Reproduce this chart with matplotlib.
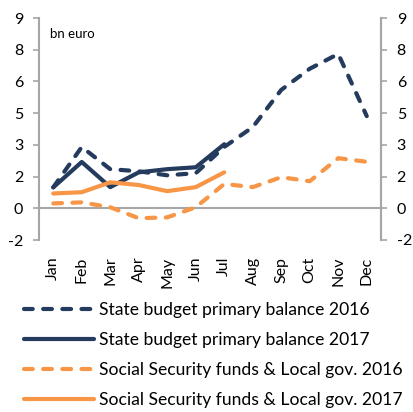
import matplotlib
matplotlib.use("Agg")
import matplotlib.pyplot as plt
import numpy as np

months = ["Jan", "Feb", "Mar", "Apr", "May", "Jun", "Jul", "Aug", "Sep", "Oct", "Nov", "Dec"]
state_2016 = [0.99, 2.9, 1.85, 1.75, 1.56, 1.66, 2.9, 3.84, 5.6, 6.6, 7.3, 4.36]
state_2017 = [0.99, 2.19, 1.0, 1.7, 1.85, 1.94, 3.03]
ss_2016 = [0.23, 0.28, 0.05, -0.47, -0.43, 0.05, 1.15, 1.0, 1.47, 1.28, 2.37, 2.2]
ss_2017 = [0.7, 0.76, 1.23, 1.1, 0.81, 1.0, 1.7]
y_ticks = [-1.5, 0, 1.5, 3, 4.5, 6, 7.5, 9]
y_tick_labels = ["-2", "0", "2", "3", "5", "6", "8", "9"]
series_names = ["State budget primary balance 2016", "State budget primary balance 2017",
                "Social Security funds & Local gov. 2016", "Social Security funds & Local gov. 2017"]

NAVY = "#243B5E"
ORANGE = "#F79646"
GRAY = "#A6A6A6"
plt.rcParams['font.family'] = ['Lato', 'DejaVu Sans']

fig = plt.figure(figsize=(4.14, 4.12), dpi=100)
ax = fig.add_axes([39/414, 1-240/412, 342/414, 222/412])
x = np.arange(len(months))

lw = 3.0
dash = (2.1, 2.5)
l1, = ax.plot(x[:len(state_2016)], state_2016, color=NAVY, lw=lw, ls=(0, dash),
              dash_capstyle='round', solid_capstyle='round', label=series_names[0])
l2, = ax.plot(x[:len(state_2017)], state_2017, color=NAVY, lw=lw,
              solid_capstyle='round', solid_joinstyle='round', label=series_names[1])
l3, = ax.plot(x[:len(ss_2016)], ss_2016, color=ORANGE, lw=lw, ls=(0, dash),
              dash_capstyle='round', label=series_names[2])
l4, = ax.plot(x[:len(ss_2017)], ss_2017, color=ORANGE, lw=lw,
              solid_capstyle='round', solid_joinstyle='round', label=series_names[3])

ax.axhline(0, color=GRAY, lw=1.5, zorder=0)
ax.set_xlim(-0.5, len(months) - 0.5)
ax.set_ylim(-1.5, 9)
ax.set_yticks(y_ticks)
ax.set_yticklabels(y_tick_labels)
ax.set_xticks(x)
ax.set_xticklabels(months, rotation=90)
ax.tick_params(axis='x', length=0, pad=12, labelsize=11.5)
ax.tick_params(axis='y', direction='out', length=4.3, width=1.2, color=GRAY, labelsize=11.5, pad=7)
for s in ['top', 'bottom']:
    ax.spines[s].set_visible(False)
for s in ['left', 'right']:
    ax.spines[s].set_color(GRAY)
    ax.spines[s].set_linewidth(1.5)

ax2 = ax.twinx()
ax2.set_ylim(ax.get_ylim())
ax2.set_yticks(y_ticks)
ax2.set_yticklabels(y_tick_labels)
ax2.tick_params(axis='y', direction='out', length=4.3, width=1.2, color=GRAY, labelsize=11.5, pad=7)
for s in ['top', 'bottom', 'left']:
    ax2.spines[s].set_visible(False)
ax2.spines['right'].set_color(GRAY)
ax2.spines['right'].set_linewidth(1.5)

ax.text(50/414, 1-34/412, "bn euro", transform=fig.transFigure, fontsize=9.5, va='center', ha='left')

leg = fig.legend(handles=[l1, l2, l3, l4], loc='upper left', bbox_to_anchor=(24/414, 1-302/412),
                 frameon=False, fontsize=12.6, handlelength=4.0, handletextpad=0.3,
                 labelspacing=0.8, borderaxespad=0, borderpad=0)

fig.savefig("out.png", dpi=100)
